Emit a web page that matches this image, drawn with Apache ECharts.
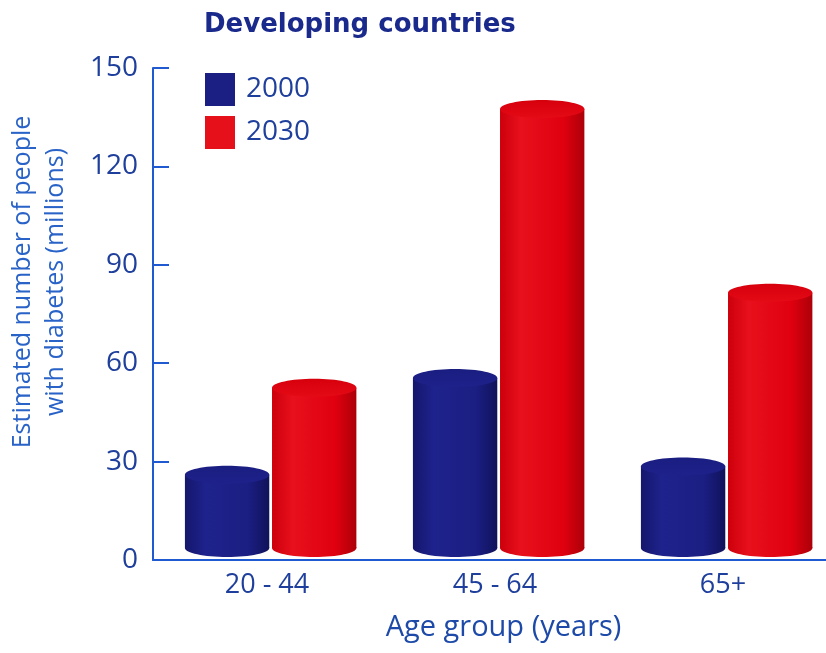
<!DOCTYPE html>
<html>
<head>
<meta charset="utf-8">
<script src="https://cdn.jsdelivr.net/npm/echarts@6/dist/echarts.min.js"></script>
<style>
  html, body { margin: 0; padding: 0; background: #ffffff; }
  #chart { width: 826px; height: 653px; }
</style>
</head>
<body>
<div id="chart"></div>
<script>
// Age groups and estimated number of people with diabetes (millions)
const ageGroups = ['20 - 44', '45 - 64', '65+'];
const years = ['2000', '2030'];
const values2000 = [26, 55.5, 28.5];
const values2030 = [52.5, 137.5, 81.5];
const yTicks = { min: 0, max: 150, interval: 30 };

const FONT = '"Open Sans", "Noto Sans", sans-serif';
const AXIS_BLUE = '#1f5ad0';
const LABEL_BLUE = '#1f3f9c';

// Cylinder shading: [edge-left, light, mid, edge-right]
const palettes = {
  '2000': { solid: '#1b1e83', side: ['#15176c', '#1e228c', '#1b1e82', '#10125a'], top: ['#1a1d80', '#1e218a'] },
  '2030': { solid: '#e5101a', side: ['#cc000c', '#e8101c', '#e0000f', '#ac0008'], top: ['#d6000c', '#e40a16'] }
};

// horizontal position of each cylinder inside its category band (fraction of band)
const bandOffset = { '2000': -0.175, '2030': 0.207 };
const barFrac = 0.37;

function cylinder(year) {
  const pal = palettes[year];
  return function (params, api) {
    const ci = api.value(0);
    const v = api.value(1);
    const topPt = api.coord([ci, v]);
    const basePt = api.coord([ci, 0]);
    const band = api.size([1, 0])[0];
    const rx = band * barFrac / 2;
    const ry = 9;
    const cx = topPt[0] + bandOffset[year] * band;
    const topY = topPt[1];
    const botY = basePt[1] - 12;
    const sideFill = new echarts.graphic.LinearGradient(0, 0, 1, 0, [
      { offset: 0, color: pal.side[0] },
      { offset: 0.25, color: pal.side[1] },
      { offset: 0.75, color: pal.side[2] },
      { offset: 1, color: pal.side[3] }
    ]);
    const topFill = new echarts.graphic.LinearGradient(0, 0, 0, 1, [
      { offset: 0, color: pal.top[0] },
      { offset: 1, color: pal.top[1] }
    ]);
    return {
      type: 'group',
      children: [
        { type: 'ellipse', shape: { cx: cx, cy: botY, rx: rx, ry: ry }, style: { fill: sideFill } },
        { type: 'rect', shape: { x: cx - rx, y: topY, width: rx * 2, height: botY - topY }, style: { fill: sideFill } },
        { type: 'ellipse', shape: { cx: cx, cy: topY, rx: rx, ry: ry }, style: { fill: topFill } }
      ]
    };
  };
}

function seriesData(vals) {
  return vals.map((v, i) => [i, v]);
}

const chart = echarts.init(document.getElementById('chart'), null, { renderer: 'canvas' });

chart.setOption({
  animation: false,
  backgroundColor: '#ffffff',
  title: {
    text: 'Developing countries',
    left: 199,
    top: 7,
    textStyle: { fontFamily: '"DejaVu Sans", sans-serif', fontWeight: 'bold', fontSize: 26, color: '#1a2a8c' }
  },
  legend: {
    orient: 'vertical',
    left: 200,
    top: 68,
    itemWidth: 30,
    itemHeight: 33,
    itemGap: 10,
    icon: 'rect',
    data: years.map(y => ({ name: y, itemStyle: { color: palettes[y].solid } })),
    textStyle: { fontFamily: FONT, fontSize: 28, color: LABEL_BLUE, padding: [0, 0, 0, 6] }
  },
  grid: { left: 153, top: 68, width: 684, bottom: 93, containLabel: false, outerBoundsMode: 'none' },
  xAxis: {
    type: 'category',
    data: ageGroups,
    name: 'Age group (years)',
    nameLocation: 'middle',
    nameGap: 53,
    nameTextStyle: { fontFamily: FONT, fontSize: 29, color: '#1d4aa8', padding: [0, 0, 0, 17] },
    axisLine: { lineStyle: { color: AXIS_BLUE, width: 2 } },
    axisTick: { inside: true, length: 12, lineStyle: { color: AXIS_BLUE, width: 2 } },
    axisLabel: { fontFamily: FONT, fontSize: 27, color: LABEL_BLUE, margin: 12 }
  },
  yAxis: {
    type: 'value',
    min: yTicks.min,
    max: yTicks.max,
    interval: yTicks.interval,
    name: 'Estimated number of people\nwith diabetes (millions)',
    nameLocation: 'middle',
    nameRotate: 90,
    nameGap: 81,
    nameTextStyle: { fontFamily: FONT, fontSize: 25, lineHeight: 33, color: '#2a63c8', align: 'center', padding: [0, 0, 0, 64] },
    splitLine: { show: false },
    axisLine: { show: true, lineStyle: { color: AXIS_BLUE, width: 2 } },
    axisTick: { show: true, inside: true, length: 16, lineStyle: { color: AXIS_BLUE, width: 2 } },
    axisLabel: { fontFamily: FONT, fontSize: 28, color: LABEL_BLUE, margin: 15 }
  },
  series: [
    { type: 'custom', name: '2000', renderItem: cylinder('2000'), data: seriesData(values2000), itemStyle: { color: palettes['2000'].solid }, encode: { x: 0, y: 1 } },
    { type: 'custom', name: '2030', renderItem: cylinder('2030'), data: seriesData(values2030), itemStyle: { color: palettes['2030'].solid }, encode: { x: 0, y: 1 } }
  ]
});
</script>
</body>
</html>
